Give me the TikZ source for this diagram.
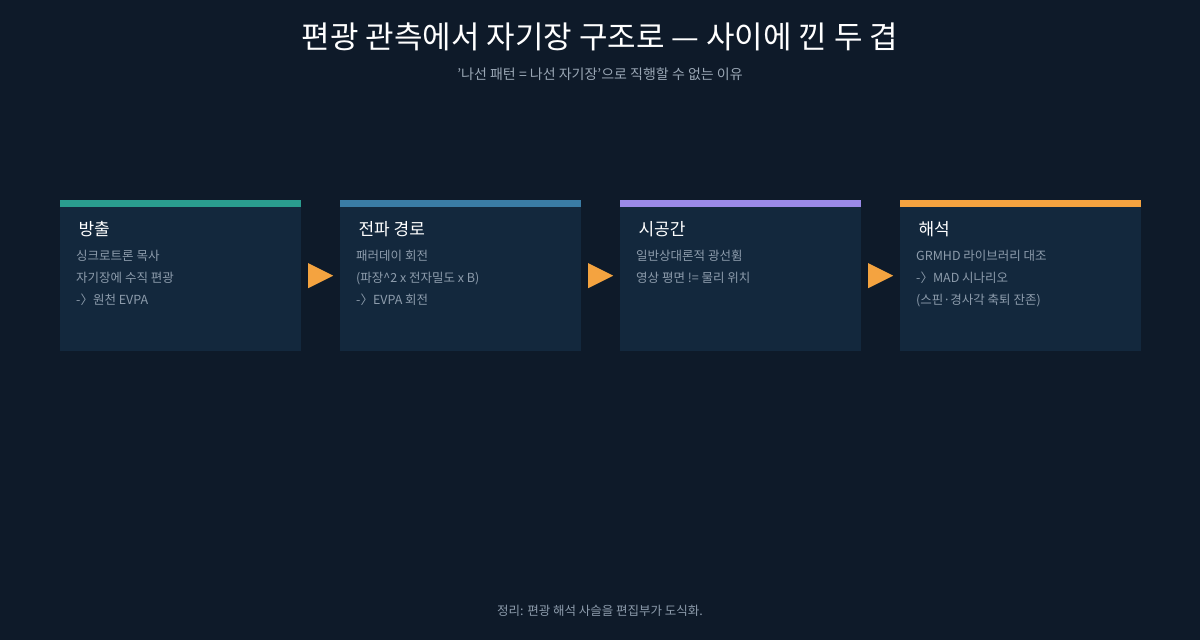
\documentclass[tikz,border=0pt]{standalone}
\usepackage{fontspec}
\setmainfont{Noto Sans CJK KR}
\definecolor{bg}{HTML}{0E1A29}
\definecolor{boxc}{HTML}{13283D}
\definecolor{cA}{HTML}{2A9D8F}
\definecolor{cB}{HTML}{3A7CA5}
\definecolor{cC}{HTML}{9B8AE8}
\definecolor{cD}{HTML}{F4A340}
\definecolor{body}{HTML}{8D9CAC}
\definecolor{sub}{HTML}{9AA7B5}
\begin{document}
\begin{tikzpicture}[x=1pt,y=-1pt,
  card/.style={fill=boxc,draw=none,minimum width=241pt,minimum height=151pt,inner sep=0pt,anchor=north west},
  head/.style={anchor=west,text=white,font=\fontsize{17}{20}\selectfont},
  bodyt/.style={anchor=north west,text=body,font=\fontsize{12.5}{22}\selectfont,align=left,inner sep=0pt},
  tri/.style={fill=cD}]
\fill[bg] (0,0) rectangle (1200,640);
\useasboundingbox (0,0) rectangle (1200,640);
\node[text=white,font=\fontsize{31}{36}\selectfont] (title) at (600,37) {편광 관측에서 자기장 구조로 — 사이에 낀 두 겹};
\node[text=sub,font=\fontsize{14}{16}\selectfont] (subtitle) at (600,74) {’나선 패턴 = 나선 자기장’으로 직행할 수 없는 이유};
\foreach \i/\x/\c/\h/\b in {
 1/60/cA/방출/{싱크로트론 목사\\자기장에 수직 편광\\-〉원천 EVPA},
 2/340/cB/전파 경로/{패러데이 회전\\(파장\textasciicircum 2 x 전자밀도 x B)\\-〉EVPA 회전},
 3/620/cC/시공간/{일반상대론적 광선휨\\영상 평면 != 물리 위치},
 4/900/cD/해석/{GRMHD 라이브러리 대조\\-〉MAD 시나리오\\(스핀·경사각 축퇴 잔존)}}{
  \node[card] (box\i) at (\x,200) {};
  \fill[\c] (\x,200) rectangle ++(241,7);
  \node[head] (h\i) at (\x+15,229) {\h};
  \node[bodyt] (b\i) at (\x+16,250) {\b};
}
\foreach \a/\b in {1/2,2/3,3/4}{
  \path (box\a.east) -- (box\b.west) coordinate[pos=0.5] (m\a);
  \fill[tri] ([xshift=-12.5pt,yshift=12.5pt]m\a) -- ([xshift=12.5pt]m\a) -- ([xshift=-12.5pt,yshift=-12.5pt]m\a) -- cycle;
}
\node[text=body,font=\fontsize{12.5}{14}\selectfont] (foot) at (600,611) {정리: 편광 해석 사슬을 편집부가 도식화.};
\end{tikzpicture}
\end{document}
